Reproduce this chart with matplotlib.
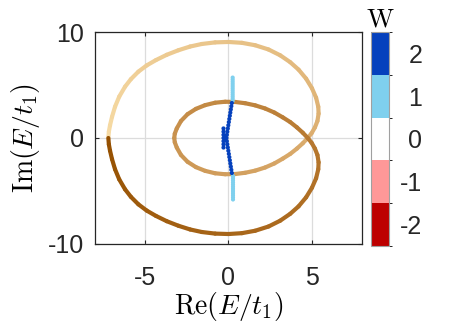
import numpy as np
import matplotlib
matplotlib.use("Agg")
import matplotlib.pyplot as plt
from matplotlib.collections import LineCollection
from matplotlib.colors import ListedColormap, BoundaryNorm, LinearSegmentedColormap
from matplotlib.cm import ScalarMappable

plt.rcParams['font.family'] = ['Liberation Sans', 'DejaVu Sans']
plt.rcParams['mathtext.fontset'] = 'cm'
plt.rcParams['axes.unicode_minus'] = False

# spectrum loop under PBC, in order of k
# outer upper arc -> inner lower arc -> inner upper arc -> outer lower arc
loop_re = [-7.2, -7.17, -7.1, -6.98, -6.8, -6.55, -6.2, -5.85, -5.4, -4.9, -4.35, -3.7,
           -3.0, -2.3, -1.6, -0.8, 0.0, 0.8, 1.6, 2.4, 3.1, 3.7, 4.2, 4.65, 5.0, 5.25,
           5.38, 5.4, 5.33, 5.18, 4.98, 4.75,
           4.45, 4.1, 3.7, 3.25, 2.75, 2.2, 1.6, 1.0, 0.4, -0.2, -0.8, -1.4, -1.95,
           -2.45, -2.85, -3.1, -3.22, -3.25,
           -3.22, -3.1, -2.85, -2.45, -1.95, -1.4, -0.8, -0.2, 0.4, 1.0, 1.6, 2.2,
           2.75, 3.25, 3.7, 4.1, 4.45, 4.75,
           4.98, 5.18, 5.33, 5.4, 5.38, 5.25, 5.0, 4.65, 4.2, 3.7, 3.1, 2.4, 1.6, 0.8,
           0.0, -0.8, -1.6, -2.3, -3.0, -3.7, -4.35, -4.9, -5.4, -5.85, -6.2, -6.55,
           -6.8, -6.98, -7.1, -7.17, -7.2]
loop_im = [0.0, 0.6, 1.2, 2.0, 2.95, 3.9, 4.84, 5.55, 6.26, 6.85, 7.35, 7.85,
           8.28, 8.63, 8.87, 9.02, 9.06, 8.98, 8.75, 8.35, 7.8, 7.15, 6.45, 5.6, 4.7, 3.8,
           2.95, 2.3, 1.6, 1.0, 0.45, 0.0,
           -0.5, -1.0, -1.5, -1.95, -2.4, -2.78, -3.08, -3.28, -3.4, -3.42, -3.33, -3.1, -2.75,
           -2.25, -1.6, -0.9, -0.4, 0.0,
           0.4, 0.9, 1.6, 2.25, 2.75, 3.1, 3.33, 3.42, 3.4, 3.28, 3.08, 2.78,
           2.4, 1.95, 1.5, 1.0, 0.5, 0.0,
           -0.45, -1.0, -1.6, -2.3, -2.95, -3.8, -4.7, -5.6, -6.45, -7.15, -7.8, -8.35, -8.75, -8.98,
           -9.06, -9.02, -8.87, -8.63, -8.28, -7.85, -7.35, -6.85, -6.26, -5.55, -4.84, -3.9,
           -2.95, -2.0, -1.2, -0.6, 0.0]

# OBC eigenvalues, winding number 1
w1_re = [0.25, 0.25, 0.25, 0.25, 0.25, 0.25, 0.25, 0.25, 0.25, 0.25, 0.25, 0.25,
         0.27, 0.27, 0.27, 0.27, 0.27, 0.27, 0.27, 0.27, 0.27, 0.27, 0.27, 0.27]
w1_im = [3.5, 3.7, 3.9, 4.1, 4.3, 4.5, 4.7, 4.9, 5.1, 5.3, 5.5, 5.7,
         -3.6, -3.8, -4.0, -4.2, -4.4, -4.6, -4.8, -5.0, -5.2, -5.4, -5.6, -5.8]
# OBC eigenvalues, winding number 2
w2_re = [0.2, 0.17, 0.14, 0.11, 0.08, 0.05, 0.02, -0.01, -0.04, -0.07, -0.1, -0.12,
         -0.1, -0.07, -0.04, -0.01, 0.02, 0.05, 0.08, 0.11, 0.14, 0.17, 0.2,
         -0.3, -0.3, -0.3, -0.3, -0.3, -0.3, -0.3, -0.22, -0.22]
w2_im = [3.3, 3.0, 2.7, 2.4, 2.1, 1.8, 1.5, 1.2, 0.9, 0.6, 0.3, 0.0,
         -0.3, -0.6, -0.9, -1.2, -1.5, -1.8, -2.1, -2.4, -2.7, -3.0, -3.3,
         -0.9, -0.6, -0.3, 0.0, 0.3, 0.6, 0.9, 0.15, -0.15]

w_ticks = [-2, -1, 0, 1, 2]
w_colors = ['#bd0000', '#ff9898', '#ffffff', '#7fd0ee', '#0541bd']

fig = plt.figure(figsize=(4.49, 3.33), dpi=100)
ax = fig.add_axes([0.2116, 0.2673, 0.5946, 0.6366])

# loop coloured along k
pts = np.column_stack([loop_re, loop_im])
segs = np.stack([pts[:-1], pts[1:]], axis=1)
arc = np.cumsum(np.hypot(np.diff(loop_re), np.diff(loop_im)))
t = (arc - arc[0] / 2) / arc[-1]
brown = LinearSegmentedColormap.from_list('brown', ['#f7dca6', '#dcae70', '#b7782f', '#955000'])
lc = LineCollection(segs, colors=brown(t), linewidths=3.0, capstyle='round', joinstyle='round')
ax.add_collection(lc)

ax.scatter(w1_re, w1_im, s=9, color=w_colors[3], edgecolors='none', zorder=3)
ax.scatter(w2_re, w2_im, s=9, color=w_colors[4], edgecolors='none', zorder=4)

ax.set_xlim(-8, 8)
ax.set_ylim(-10, 10)
ax.set_xticks([-5, 0, 5])
ax.set_yticks([-10, 0, 10])
ax.grid(True, color='#dcdcdc', linewidth=0.9)
ax.set_axisbelow(True)
ax.tick_params(direction='in', length=3, width=0.8, color='#262626', labelsize=18,
               top=True, right=True, labelcolor='#262626')
ax.tick_params(axis='x', pad=16)
ax.tick_params(axis='y', pad=8)
for s in ax.spines.values():
    s.set_color('#262626')
    s.set_linewidth(0.9)
ax.set_xlabel(r'$\mathrm{Re}(E/t_1)$', fontsize=20, labelpad=0)
ax.set_ylabel(r'$\mathrm{Im}(E/t_1)$', fontsize=20, labelpad=4)

# colorbar for W
cax = fig.add_axes([0.8263, 0.2613, 0.0401, 0.6426])
cmap = ListedColormap(w_colors)
norm = BoundaryNorm([-2.5, -1.5, -0.5, 0.5, 1.5, 2.5], cmap.N)
cb = fig.colorbar(ScalarMappable(norm=norm, cmap=cmap), cax=cax, ticks=w_ticks)
cb.outline.set_edgecolor('#a0a0a0')
cb.outline.set_linewidth(0.8)
cax.tick_params(length=0, labelsize=18, pad=24, labelcolor='#262626')
for lab in cax.get_yticklabels():
    lab.set_ha('right')
cax.set_title(r'$\mathrm{W}$', fontsize=19, pad=4)

fig.savefig('out.png', dpi=100)
